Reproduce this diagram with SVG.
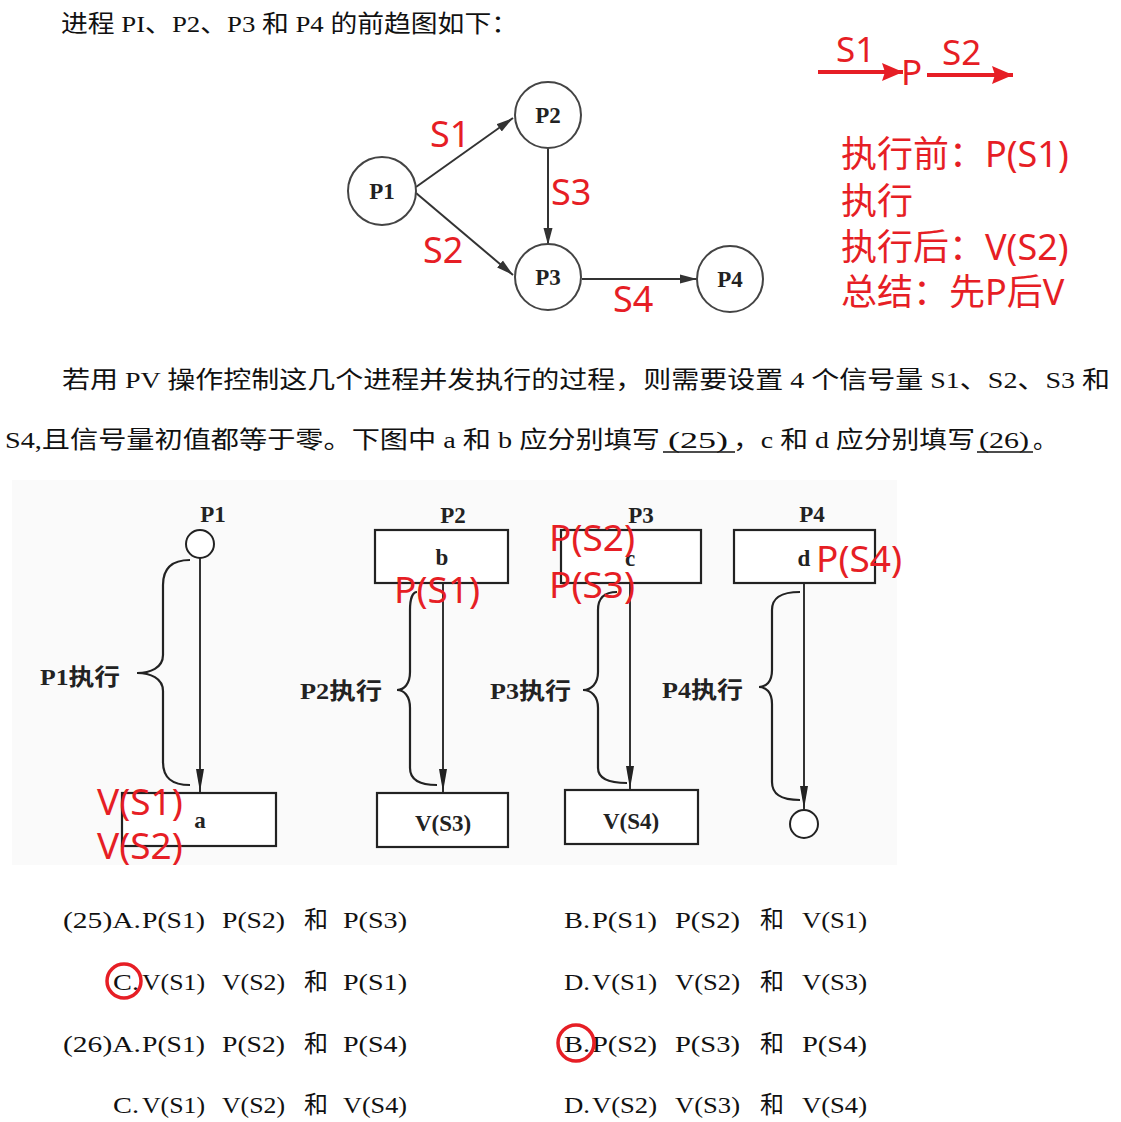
<svg xmlns="http://www.w3.org/2000/svg" width="1121" height="1122" viewBox="0 0 1121 1122">
<style>
.body{font-family:"Liberation Serif","Noto Sans CJK SC",serif;font-size:24px;fill:#111}
.red{font-family:"Noto Sans","Noto Sans CJK SC",sans-serif;fill:#e61e25}
.lbl{font-family:"Liberation Serif","Noto Sans CJK SC",serif;font-weight:bold;font-size:23px;fill:#222}
.nd{fill:#fff;stroke:#444;stroke-width:2}
.bx{fill:#fff;stroke:#222;stroke-width:2.2}
.ln{stroke:#333;stroke-width:2;fill:none}
.br{stroke:#222;stroke-width:2.2;fill:none}
.rc{fill:none;stroke:#e61e25;stroke-width:3.5}
</style>
<defs>
<marker id="ah" markerUnits="userSpaceOnUse" markerWidth="18" markerHeight="10" refX="17" refY="5" orient="auto"><path d="M0,0.5 L17,5 L0,9.5 Z" fill="#333"/></marker>
<marker id="av" markerUnits="userSpaceOnUse" markerWidth="24" markerHeight="10" refX="23" refY="5" orient="auto"><path d="M0,1 L23,5 L0,9 Z" fill="#222"/></marker>
<marker id="ar" markerUnits="userSpaceOnUse" markerWidth="22" markerHeight="18" refX="21" refY="9" orient="auto"><path d="M0,0 L21,9 L0,18 L3,9 Z" fill="#e61e25"/></marker>
</defs>
<rect width="1121" height="1122" fill="#fff"/>
<rect x="12" y="480" width="885" height="385" fill="#fafafa"/>

<text class="body" x="61" y="32" textLength="457" lengthAdjust="spacingAndGlyphs">进程 PI、P2、P3 和 P4 的前趋图如下：</text>

<!-- top precedence graph -->
<g id="edges-top">
<line class="ln" x1="416" y1="187" x2="513" y2="118" marker-end="url(#ah)"/>
<line class="ln" x1="416" y1="193" x2="513" y2="275" marker-end="url(#ah)"/>
<line class="ln" x1="548" y1="148" x2="548" y2="245" marker-end="url(#ah)"/>
<line class="ln" x1="582" y1="279" x2="697" y2="279" marker-end="url(#ah)"/>
</g>
<g id="n-P1"><circle class="nd" cx="382" cy="191" r="34"/><text class="lbl" x="382" y="199" text-anchor="middle">P1</text></g>
<g id="n-P2"><circle class="nd" cx="548" cy="115" r="33"/><text class="lbl" x="548" y="123" text-anchor="middle">P2</text></g>
<g id="n-P3"><circle class="nd" cx="548" cy="277" r="33"/><text class="lbl" x="548" y="285" text-anchor="middle">P3</text></g>
<g id="n-P4"><circle class="nd" cx="730" cy="279" r="33"/><text class="lbl" x="730" y="287" text-anchor="middle">P4</text></g>
<g id="edge-labels" class="red" font-size="36">
<text x="430" y="147">S1</text>
<text x="551" y="205">S3</text>
<text x="423" y="263">S2</text>
<text x="613" y="312">S4</text>
</g>

<!-- right notes -->
<g id="notes" class="red">
<line x1="818" y1="72" x2="903" y2="72" stroke="#e61e25" stroke-width="4" marker-end="url(#ar)"/>
<line x1="927" y1="75" x2="1013" y2="75" stroke="#e61e25" stroke-width="4" marker-end="url(#ar)"/>
<text x="836" y="62" font-size="35">S1</text>
<text x="901" y="85" font-size="35">P</text>
<text x="942" y="65" font-size="35">S2</text>
<text x="841" y="167" font-size="36">执行前：P(S1)</text>
<text x="841" y="214" font-size="36">执行</text>
<text x="841" y="260" font-size="36">执行后：V(S2)</text>
<text x="841" y="305" font-size="36">总结：先P后V</text>
</g>

<!-- paragraph -->
<text class="body" x="62" y="388" textLength="1048" lengthAdjust="spacingAndGlyphs">若用 PV 操作控制这几个进程并发执行的过程，则需要设置 4 个信号量 S1、S2、S3 和</text>
<text class="body" x="5" y="448" textLength="655" lengthAdjust="spacingAndGlyphs">S4,且信号量初值都等于零。下图中 a 和 b 应分别填写</text>
<text class="body" x="668" y="448" textLength="60" lengthAdjust="spacingAndGlyphs">(25)</text>
<text class="body" x="733" y="448" textLength="242" lengthAdjust="spacingAndGlyphs">，c 和 d 应分别填写</text>
<text class="body" x="979" y="448" textLength="50" lengthAdjust="spacingAndGlyphs">(26)</text>
<text class="body" x="1033" y="448">。</text>
<line x1="663" y1="452" x2="735" y2="452" stroke="#111" stroke-width="1.5"/>
<line x1="977" y1="452" x2="1033" y2="452" stroke="#111" stroke-width="1.5"/>

<!-- lower diagram -->
<g id="connectors">
<line class="ln" x1="200" y1="558" x2="200" y2="792" marker-end="url(#av)"/>
<line class="ln" x1="443" y1="583" x2="443" y2="792" marker-end="url(#av)"/>
<line class="ln" x1="630" y1="583" x2="630" y2="789" marker-end="url(#av)"/>
<line class="ln" x1="804" y1="583" x2="804" y2="809" marker-end="url(#av)"/>
</g>

<g id="p1">
<text class="lbl" x="213" y="522" text-anchor="middle">P1</text>
<circle cx="200" cy="544" r="14" fill="#fff" stroke="#222" stroke-width="2"/>
<path class="br" d="M190,560 C172,560 163,568 163,585 L163,655 C163,668 150,673 137,673 C150,673 163,678 163,691 L163,762 C163,778 172,785 190,785"/>
<text class="lbl" x="40" y="685" textLength="80" lengthAdjust="spacingAndGlyphs">P1执行</text>
<rect class="bx" x="122" y="793" width="154" height="53"/>
<text class="lbl" x="200" y="828" text-anchor="middle">a</text>
<text class="red" x="97" y="815" font-size="37">V(S1)</text>
<text class="red" x="97" y="859" font-size="37">V(S2)</text>
</g>

<g id="p2">
<text class="lbl" x="453" y="523" text-anchor="middle">P2</text>
<rect class="bx" x="375" y="530" width="133" height="53"/>
<text class="lbl" x="442" y="565" text-anchor="middle">b</text>
<path class="br" d="M417,592 C413,592 410,598 410,610 L410,672 C410,684 404,690 397,690 C404,690 410,696 410,708 L410,768 C410,780 420,785 437,785"/>
<text class="lbl" x="300" y="699" textLength="82" lengthAdjust="spacingAndGlyphs">P2执行</text>
<rect class="bx" x="377" y="793" width="131" height="54"/>
<text class="lbl" x="443" y="831" text-anchor="middle" font-weight="normal">V(S3)</text>
<text class="red" x="394" y="603" font-size="37">P(S1)</text>
</g>

<g id="p3">
<text class="lbl" x="641" y="523" text-anchor="middle">P3</text>
<rect class="bx" x="561" y="530" width="140" height="53"/>
<text class="lbl" x="630" y="566" text-anchor="middle">c</text>
<path class="br" d="M617,592 C605,592 598,598 598,610 L598,672 C598,684 591,690 583,690 C591,690 598,696 598,708 L598,768 C598,778 608,783 627,783"/>
<text class="lbl" x="490" y="699" textLength="81" lengthAdjust="spacingAndGlyphs">P3执行</text>
<rect class="bx" x="565" y="790" width="133" height="54"/>
<text class="lbl" x="631" y="829" text-anchor="middle" font-weight="normal">V(S4)</text>
<text class="red" x="549" y="551" font-size="37">P(S2)</text>
<text class="red" x="549" y="598" font-size="37">P(S3)</text>
</g>

<g id="p4">
<text class="lbl" x="812" y="522" text-anchor="middle">P4</text>
<rect class="bx" x="734" y="530" width="141" height="53"/>
<text class="lbl" x="804" y="566" text-anchor="middle">d</text>
<path class="br" d="M800,592 C780,592 772,598 772,610 L772,670 C772,682 766,687 759,687 C766,687 772,692 772,704 L772,782 C772,794 780,800 800,800"/>
<text class="lbl" x="662" y="698" textLength="81" lengthAdjust="spacingAndGlyphs">P4执行</text>
<circle cx="804" cy="824" r="14" fill="#fff" stroke="#222" stroke-width="2"/>
<text class="red" x="816" y="572" font-size="37">P(S4)</text>
</g>

<!-- options -->
<g id="options" class="body">
<text x="63" y="928" textLength="78" lengthAdjust="spacingAndGlyphs">(25)A.</text>
<text x="142" y="928" textLength="63" lengthAdjust="spacingAndGlyphs">P(S1)</text>
<text x="222" y="928" textLength="63" lengthAdjust="spacingAndGlyphs">P(S2)</text>
<text x="304" y="928">和</text>
<text x="343" y="928" textLength="64" lengthAdjust="spacingAndGlyphs">P(S3)</text>
<text x="564" y="928" textLength="26" lengthAdjust="spacingAndGlyphs">B.</text>
<text x="592" y="928" textLength="65" lengthAdjust="spacingAndGlyphs">P(S1)</text>
<text x="675" y="928" textLength="65" lengthAdjust="spacingAndGlyphs">P(S2)</text>
<text x="760" y="928">和</text>
<text x="802" y="928" textLength="65" lengthAdjust="spacingAndGlyphs">V(S1)</text>

<text x="113" y="990" textLength="26" lengthAdjust="spacingAndGlyphs">C.</text>
<text x="142" y="990" textLength="63" lengthAdjust="spacingAndGlyphs">V(S1)</text>
<text x="222" y="990" textLength="63" lengthAdjust="spacingAndGlyphs">V(S2)</text>
<text x="304" y="990">和</text>
<text x="343" y="990" textLength="64" lengthAdjust="spacingAndGlyphs">P(S1)</text>
<text x="564" y="990" textLength="26" lengthAdjust="spacingAndGlyphs">D.</text>
<text x="592" y="990" textLength="65" lengthAdjust="spacingAndGlyphs">V(S1)</text>
<text x="675" y="990" textLength="65" lengthAdjust="spacingAndGlyphs">V(S2)</text>
<text x="760" y="990">和</text>
<text x="802" y="990" textLength="65" lengthAdjust="spacingAndGlyphs">V(S3)</text>

<text x="63" y="1052" textLength="78" lengthAdjust="spacingAndGlyphs">(26)A.</text>
<text x="142" y="1052" textLength="63" lengthAdjust="spacingAndGlyphs">P(S1)</text>
<text x="222" y="1052" textLength="63" lengthAdjust="spacingAndGlyphs">P(S2)</text>
<text x="304" y="1052">和</text>
<text x="343" y="1052" textLength="64" lengthAdjust="spacingAndGlyphs">P(S4)</text>
<text x="564" y="1052" textLength="26" lengthAdjust="spacingAndGlyphs">B.</text>
<text x="592" y="1052" textLength="65" lengthAdjust="spacingAndGlyphs">P(S2)</text>
<text x="675" y="1052" textLength="65" lengthAdjust="spacingAndGlyphs">P(S3)</text>
<text x="760" y="1052">和</text>
<text x="802" y="1052" textLength="65" lengthAdjust="spacingAndGlyphs">P(S4)</text>

<text x="113" y="1113" textLength="26" lengthAdjust="spacingAndGlyphs">C.</text>
<text x="142" y="1113" textLength="63" lengthAdjust="spacingAndGlyphs">V(S1)</text>
<text x="222" y="1113" textLength="63" lengthAdjust="spacingAndGlyphs">V(S2)</text>
<text x="304" y="1113">和</text>
<text x="343" y="1113" textLength="64" lengthAdjust="spacingAndGlyphs">V(S4)</text>
<text x="564" y="1113" textLength="26" lengthAdjust="spacingAndGlyphs">D.</text>
<text x="592" y="1113" textLength="65" lengthAdjust="spacingAndGlyphs">V(S2)</text>
<text x="675" y="1113" textLength="65" lengthAdjust="spacingAndGlyphs">V(S3)</text>
<text x="760" y="1113">和</text>
<text x="802" y="1113" textLength="65" lengthAdjust="spacingAndGlyphs">V(S4)</text>
</g>
<circle class="rc" cx="124" cy="981" r="17"/>
<circle class="rc" cx="576" cy="1043" r="18"/>
</svg>
